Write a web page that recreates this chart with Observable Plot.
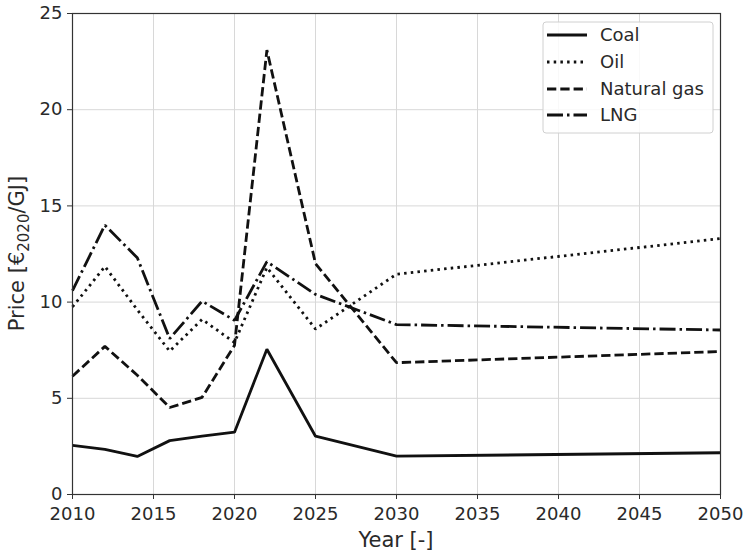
<!DOCTYPE html>
<html><head><meta charset="utf-8">
<script src="https://cdn.jsdelivr.net/npm/d3@7"></script>
<script src="https://cdn.jsdelivr.net/npm/@observablehq/plot@0.6"></script>
<style>body{margin:0;background:#fff} #chart svg{font-family:"DejaVu Sans",sans-serif;overflow:visible}</style>
</head><body><div id="chart"></div><script>
const years = [2010, 2012, 2014, 2016, 2018, 2020, 2022, 2025, 2030, 2050];
const coal = [2.55, 2.35, 1.98, 2.8, 3.03, 3.24, 7.55, 3.03, 1.99, 2.17];
const oil = [9.75, 11.85, 9.6, 7.45, 9.1, 7.9, 11.8, 8.6, 11.45, 13.3];
const naturalGas = [6.15, 7.7, 6.2, 4.52, 5.05, 7.75, 23.1, 12.0, 6.85, 7.43];
const lng = [10.6, 14.0, 12.3, 8.1, 10.05, 9.05, 12.1, 10.4, 8.83, 8.55];
const seriesNames = ["Coal", "Oil", "Natural gas", "LNG"];
const dashes = [null, "2.5,4.2", "9.3,4", "16,4,2.5,4"];
const seriesValues = [coal, oil, naturalGas, lng];
const xTicks = [2010, 2015, 2020, 2025, 2030, 2035, 2040, 2045, 2050];
const yTicks = [0, 5, 10, 15, 20, 25];

const seriesData = seriesNames.map((name, k) => years.map((y, i) => ({year: y, value: seriesValues[k][i], fuel: name})));

const W = 744, H = 555, ML = 72, MR = 24, MT = 13, MB = 61;
const plot = Plot.plot({
  width: W, height: H,
  marginLeft: ML, marginRight: MR, marginTop: MT, marginBottom: MB,
  style: {fontSize: "18px", fontFamily: "DejaVu Sans", color: "#2a2a2a", background: "#fff"},
  x: {domain: [2010, 2050]},
  y: {domain: [0, 25]},
  marks: [
    Plot.gridX(xTicks, {stroke: "#d8d8d8", strokeOpacity: 1, strokeWidth: 1}),
    Plot.gridY(yTicks, {stroke: "#d8d8d8", strokeOpacity: 1, strokeWidth: 1}),
    ...seriesData.map((d, k) => Plot.line(d, {
      x: "year", y: "value", stroke: "#111", strokeWidth: 2.8,
      strokeDasharray: dashes[k] ?? undefined, strokeLinejoin: "miter", strokeLinecap: "butt"
    })),
    Plot.frame({stroke: "#333", strokeWidth: 1.2}),
    Plot.axisX({ticks: xTicks, tickFormat: d => String(d), tickSize: 5, tickPadding: 8, label: null, fontSize: 18, stroke: "#333"}),
    Plot.axisY({ticks: yTicks, tickFormat: d => String(d), tickSize: 5, tickPadding: 5, label: null, fontSize: 18, stroke: "#333"})
  ]
});
document.getElementById("chart").append(plot);

const svg = d3.select(plot);
// axis labels
svg.append("text").attr("x", ML + (W - ML - MR) / 2).attr("y", 547)
  .attr("text-anchor", "middle").attr("font-size", 21).attr("fill", "#2a2a2a").text("Year [-]");
const yl = svg.append("text").attr("transform", `translate(24,${MT + (H - MT - MB) / 2}) rotate(-90)`)
  .attr("text-anchor", "middle").attr("font-size", 21).attr("fill", "#2a2a2a");
yl.append("tspan").text("Price [€");
yl.append("tspan").attr("font-size", 15).attr("dy", 5).text("2020");
yl.append("tspan").attr("dy", -5).text("/GJ]");

// legend
const lg = svg.append("g");
lg.append("rect").attr("x", 543).attr("y", 22).attr("width", 170).attr("height", 111)
  .attr("rx", 3).attr("fill", "#fff").attr("fill-opacity", 0.85).attr("stroke", "#d0d0d0");
const rowsY = [35, 62, 89, 115];
seriesNames.forEach((name, k) => {
  lg.append("line").attr("x1", 547).attr("x2", 587).attr("y1", rowsY[k]).attr("y2", rowsY[k])
    .attr("stroke", "#111").attr("stroke-width", 2.8).attr("stroke-dasharray", dashes[k]);
  lg.append("text").attr("x", 600).attr("y", rowsY[k]).attr("dy", "0.35em")
    .attr("text-anchor", "start").attr("font-size", 18).attr("fill", "#2a2a2a").text(name);
});
</script></body></html>
